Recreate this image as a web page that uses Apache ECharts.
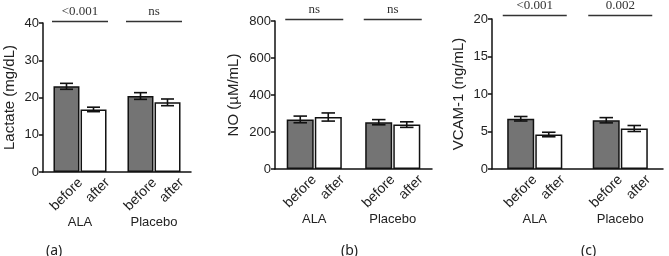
<!DOCTYPE html>
<html>
<head>
<meta charset="utf-8">
<style>
  html, body { margin: 0; padding: 0; background: #fff; }
  #main { width: 669px; height: 256px; }
</style>
<script src="https://cdn.jsdelivr.net/npm/echarts@6/dist/echarts.min.js"></script>
</head>
<body>
<div id="main"></div>
<script>
// groups and bar labels
var groups = ["ALA", "Placebo"];
var phases = ["before", "after"];

// (a) Lactate (mg/dL)
var lacBefore = [23.0, 20.4];
var lacBeforeErr = [0.8, 0.9];
var lacAfter = [16.8, 18.7];
var lacAfterErr = [0.6, 0.9];
var lacSig = ["<0.001", "ns"];

// (b) NO (µM/mL)
var noBefore = [268, 253];
var noBeforeErr = [18, 14];
var noAfter = [281, 240];
var noAfterErr = [22, 15];
var noSig = ["ns", "ns"];

// (c) VCAM-1 (ng/mL)
var vcBefore = [6.7, 6.5];
var vcBeforeErr = [0.3, 0.35];
var vcAfter = [4.6, 5.4];
var vcAfterErr = [0.3, 0.4];
var vcSig = ["<0.001", "0.002"];

var panelLabels = ["(a)", "(b)", "(c)"];

var sansFont = "Liberation Sans, Arial, sans-serif";
var serifFont = "Liberation Serif, Times New Roman, serif";

// panel layout
var panels = [
  { left: 43, right: 478, top: 23, bottom: 84, name: "Lactate (mg/dL)", max: 40, interval: 10, nameGap: 26,
    before: lacBefore, beforeErr: lacBeforeErr, after: lacAfter, afterErr: lacAfterErr, sig: lacSig,
    barW: 26, sigHalf: 28, sigUp: 1.5, titleLeft: 41 },
  { left: 275, right: 237, top: 21, bottom: 87, name: "NO (\u00b5M/mL)", max: 800, interval: 200, nameGap: 34,
    before: noBefore, beforeErr: noBeforeErr, after: noAfter, afterErr: noAfterErr, sig: noSig,
    barW: 27, sigHalf: 29, sigUp: 1.5, titleLeft: 336 },
  { left: 492, right: 6, top: 19, bottom: 87, name: "VCAM-1 (ng/mL)", max: 20, interval: 5, nameGap: 26,
    before: vcBefore, beforeErr: vcBeforeErr, after: vcAfter, afterErr: vcAfterErr, sig: vcSig,
    barW: 27, sigHalf: 32, sigUp: 3.5, titleLeft: 576 }
];

// error bars drawn over a bar series, shifted half a bar left or right
function errorSeries(idx, means, errs, side, barW) {
  var data = means.map(function (m, i) { return [i, m, errs[i]]; });
  return {
    type: "custom",
    xAxisIndex: idx,
    yAxisIndex: idx,
    z: 5,
    silent: true,
    data: data,
    renderItem: function (params, api) {
      var c = api.value(0);
      var hi = api.coord([c, api.value(1) + api.value(2)]);
      var lo = api.coord([c, api.value(1) - api.value(2)]);
      var x = hi[0] + side * (barW / 2 + 0.5);
      var cap = barW * 0.25;
      var style = { stroke: "#111", lineWidth: 1.6 };
      return {
        type: "group",
        children: [
          { type: "line", shape: { x1: x, y1: hi[1], x2: x, y2: lo[1] }, style: style },
          { type: "line", shape: { x1: x - cap, y1: hi[1], x2: x + cap, y2: hi[1] }, style: style },
          { type: "line", shape: { x1: x - cap, y1: lo[1], x2: x + cap, y2: lo[1] }, style: style }
        ]
      };
    }
  };
}

// significance line and p value above each group
function sigSeries(idx, p) {
  var data = p.sig.map(function (s, i) { return [i, p.max, s]; });
  return {
    type: "custom",
    xAxisIndex: idx,
    yAxisIndex: idx,
    silent: true,
    clip: false,
    data: data,
    renderItem: function (params, api) {
      var pt = api.coord([api.value(0), api.value(1)]);
      var y = pt[1] - p.sigUp;
      return {
        type: "group",
        children: [
          { type: "line", shape: { x1: pt[0] - p.sigHalf, y1: y, x2: pt[0] + p.sigHalf, y2: y },
            style: { stroke: "#333", lineWidth: 1.5 } },
          { type: "text", x: pt[0], y: y - 3,
            style: { text: p.sig[params.dataIndex], fill: "#333", font: "13px " + serifFont,
                     align: "center", verticalAlign: "bottom" } }
        ]
      };
    }
  };
}

function barSeries(idx, vals, label, color, barW) {
  return {
    type: "bar",
    name: label,
    xAxisIndex: idx,
    yAxisIndex: idx,
    data: vals,
    barWidth: barW,
    barGap: "4%",
    itemStyle: { color: color, borderColor: "#111", borderWidth: 1.5 },
    label: {
      show: true,
      position: ["50%", "100%"],
      offset: [4, 16],
      rotate: 45,
      align: "right",
      verticalAlign: "middle",
      formatter: label,
      color: "#222",
      fontSize: 14,
      fontFamily: sansFont
    }
  };
}

var grids = [], xAxes = [], yAxes = [], series = [], titles = [];
panels.forEach(function (p, i) {
  grids.push({ left: p.left, right: p.right, top: p.top, bottom: p.bottom });
  xAxes.push({
    type: "category",
    gridIndex: i,
    data: groups,
    axisLine: { lineStyle: { color: "#111", width: 1.5 } },
    axisTick: { show: false },
    axisLabel: { margin: 44, color: "#222", fontSize: 13, fontFamily: sansFont }
  });
  yAxes.push({
    type: "value",
    gridIndex: i,
    min: 0,
    max: p.max,
    interval: p.interval,
    name: p.name,
    nameLocation: "middle",
    nameGap: p.nameGap,
    nameTextStyle: { color: "#222", fontSize: 15, fontFamily: sansFont },
    axisLine: { show: true, lineStyle: { color: "#111", width: 1.5 } },
    axisTick: { show: true, length: 4, lineStyle: { color: "#111", width: 1.5 } },
    axisLabel: { color: "#222", fontSize: 13, fontFamily: sansFont, margin: 4 },
    splitLine: { show: false }
  });
  series.push(barSeries(i, p.before, phases[0], "#747474", p.barW));
  series.push(barSeries(i, p.after, phases[1], "#ffffff", p.barW));
  series.push(errorSeries(i, p.before, p.beforeErr, -1, p.barW));
  series.push(errorSeries(i, p.after, p.afterErr, 1, p.barW));
  series.push(sigSeries(i, p));
  titles.push({
    text: panelLabels[i],
    left: p.titleLeft,
    top: 239,
    textStyle: { color: "#222", fontSize: 14, fontWeight: "normal", fontStyle: "normal",
                 fontFamily: "Noto Sans, sans-serif" }
  });
});

var chart = echarts.init(document.getElementById("main"));
chart.setOption({
  animation: false,
  backgroundColor: "#fff",
  title: titles,
  grid: grids,
  xAxis: xAxes,
  yAxis: yAxes,
  series: series
});
</script>
</body>
</html>
